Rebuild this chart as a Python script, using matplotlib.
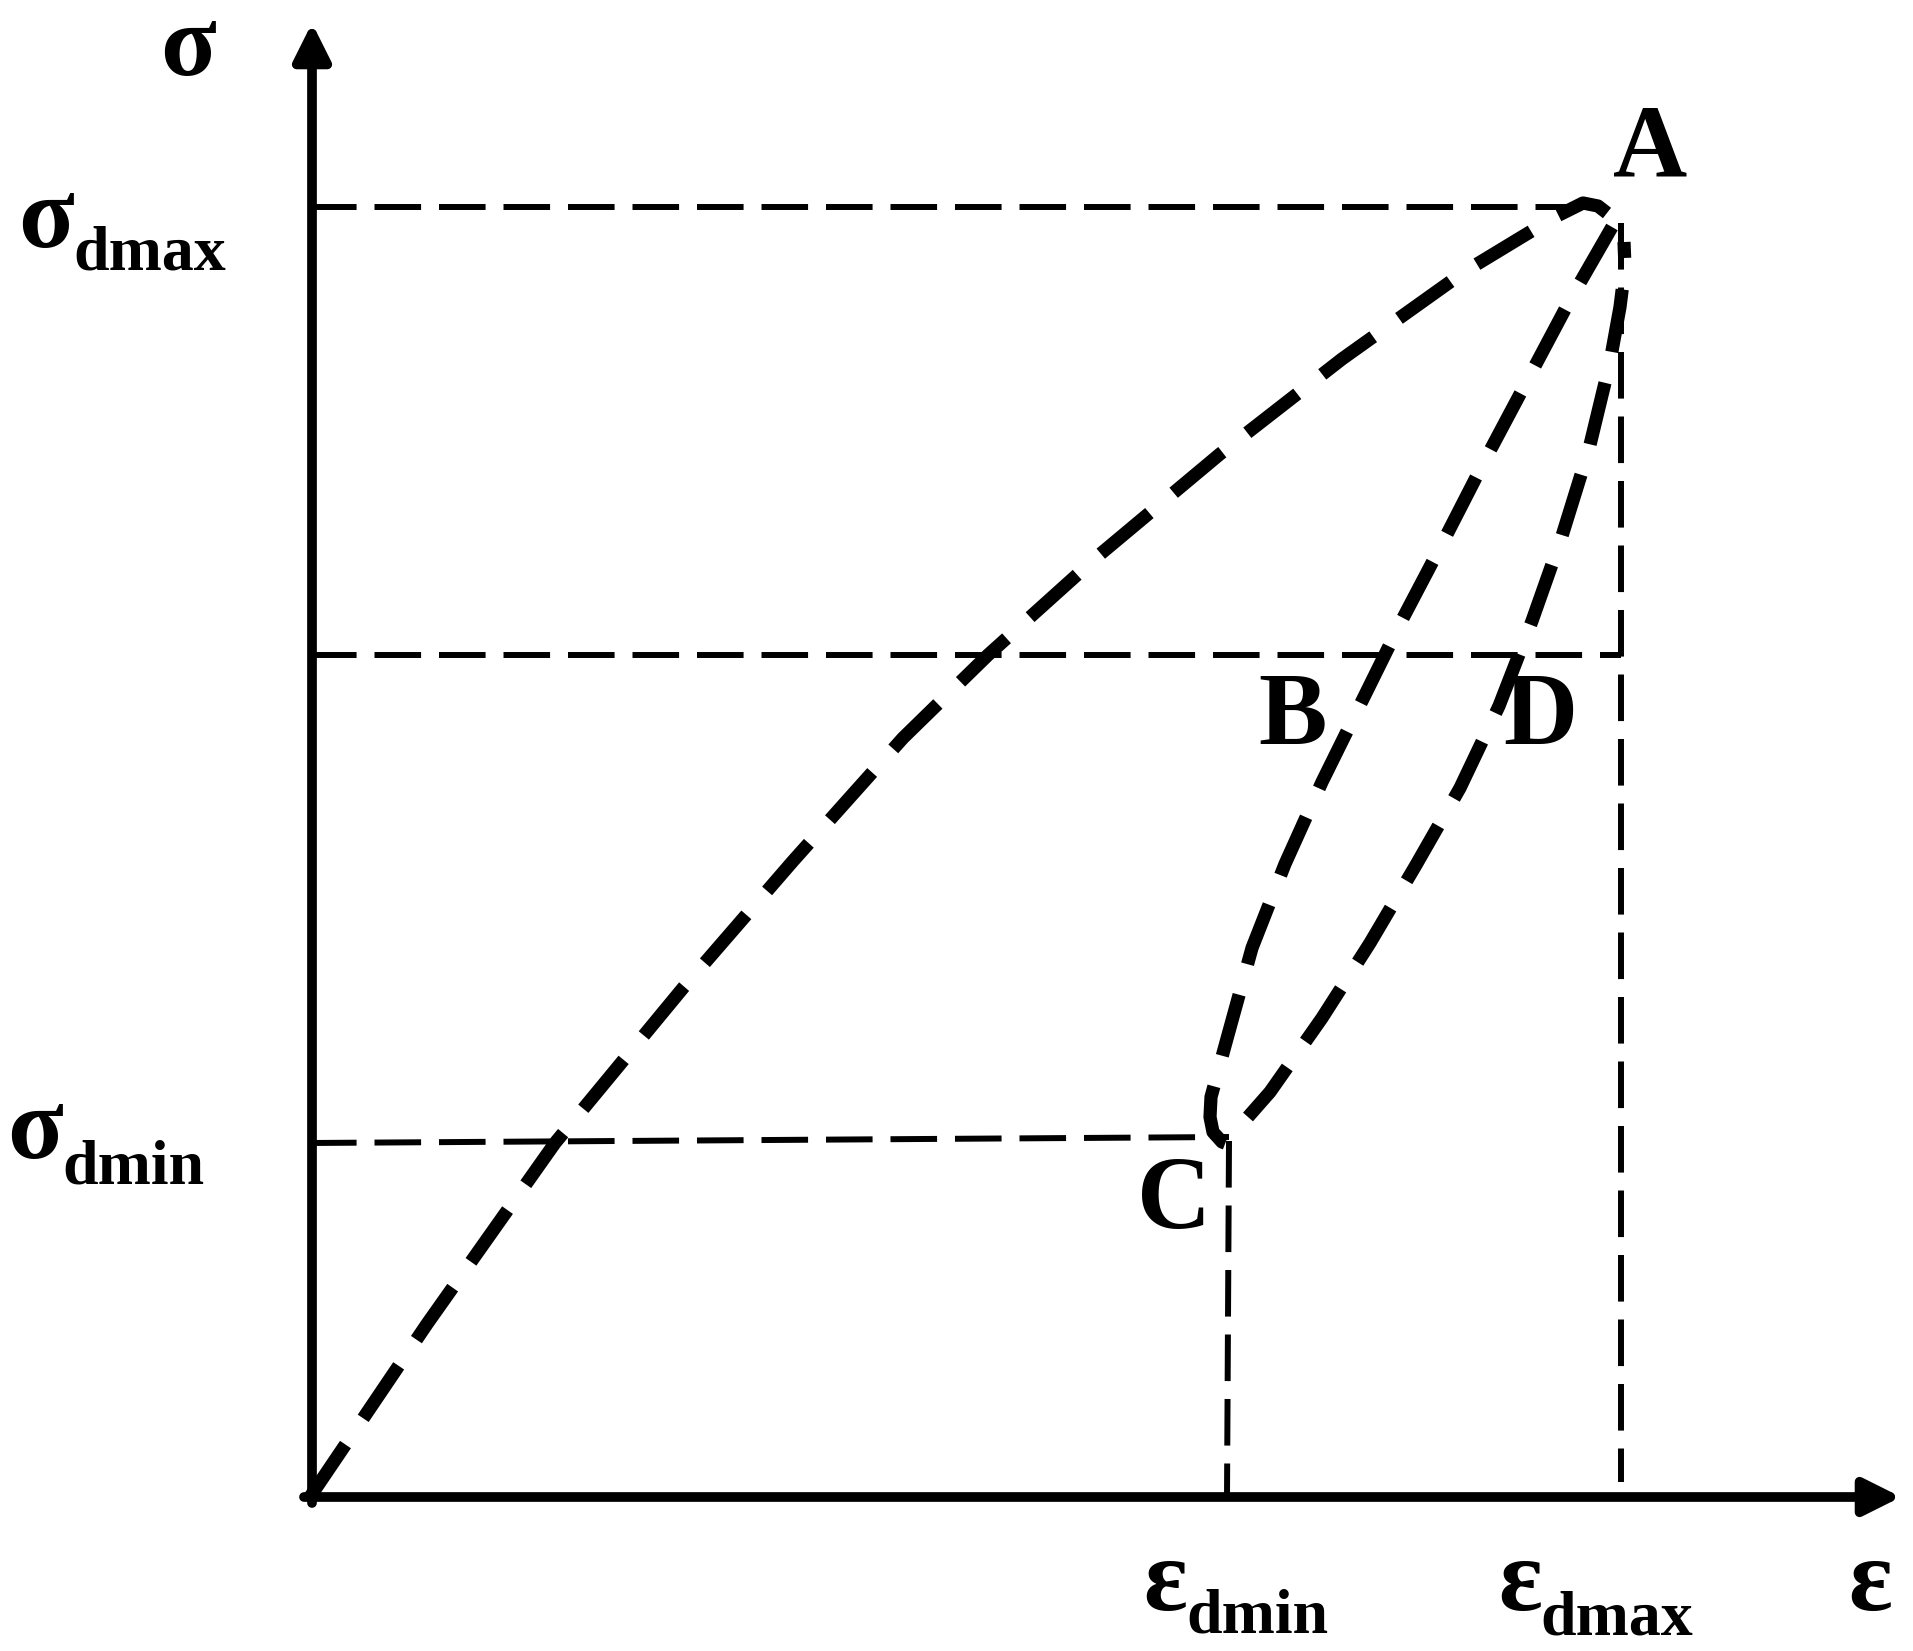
import numpy as np
import matplotlib.pyplot as plt
from matplotlib.patches import FancyArrowPatch

plt.rcParams['font.family'] = ['Liberation Serif', 'DejaVu Serif']

# schematic values (arbitrary units)
eps_dmin = 9.19
eps_dmax = 13.11
sig_dmax = 12.90
sig_mid = 8.42
sig_dmin = 3.56

# loading curve O -> A
eps_load = [0.0, 1.17, 2.45, 3.73, 4.83, 5.93, 6.78, 7.88, 9.10, 10.32, 11.54, 12.15, 12.45, 12.73, 12.88, 12.97]
sig_load = [0.0, 1.73, 3.54, 5.09, 6.36, 7.59, 8.42, 9.41, 10.43, 11.38, 12.25, 12.62, 12.80, 12.94, 12.91, 12.84]

# unloading A -> B -> C
eps_unload = [13.02, 12.60, 12.17, 11.75, 11.34, 10.92, 10.52, 10.12, 9.75, 9.42, 9.18, 9.01, 9.00, 9.03, 9.12, 9.20]
sig_unload = [12.70, 11.97, 11.16, 10.37, 9.57, 8.77, 7.96, 7.15, 6.33, 5.49, 4.62, 4.00, 3.80, 3.65, 3.55, 3.52]

# reloading C -> D -> A
eps_reload = [9.38, 9.60, 10.12, 10.60, 11.06, 11.50, 11.89, 12.22, 12.52, 12.79, 13.00, 13.10, 13.15, 13.14]
sig_reload = [3.80, 4.05, 4.79, 5.54, 6.32, 7.09, 7.91, 8.76, 9.61, 10.48, 11.35, 11.90, 12.30, 12.55]

fig = plt.figure(figsize=(19.13, 16.51), dpi=100)
ax = fig.add_axes([0, 0, 1, 1])
ax.set_xlim(-3.10, 16.03)
ax.set_ylim(-1.54, 14.97)
ax.axis('off')

# axes with arrows
for start, end in [((0.02, -0.06), (0.02, 14.74)), ((-0.06, 0.0), (15.91, 0.0))]:
    arr = FancyArrowPatch(start, end, arrowstyle='-|>,head_length=1.0,head_width=0.5',
                          mutation_scale=22, lw=7, color='k', shrinkA=0, shrinkB=0)
    ax.add_patch(arr)

# thin dashed reference lines
thin = dict(color='k', lw=4.3, ls=(0, (7.8, 3.0)), dash_capstyle='butt')
ax.plot([0, 12.6], [sig_dmax, sig_dmax], **thin)
ax.plot([0, eps_dmax], [sig_mid, sig_mid], **thin)
ax.plot([0, eps_dmin], [sig_dmin - 0.02, sig_dmin + 0.04], **thin)
ax.plot([eps_dmax, eps_dmax], [12.74, 0.15], **thin)
ax.plot([eps_dmin, eps_dmin - 0.02], [sig_dmin, 0.0], **thin)

# thick dashed stress-strain curves
thick = dict(color='k', lw=9.5, ls=(0, (4.8, 2.4)), dash_capstyle='butt')
ax.plot(eps_load, sig_load, **thick)
ax.plot(eps_unload, sig_unload, **thick)
ax.plot(eps_reload, sig_reload, **thick)

big = dict(fontsize=74, fontweight='bold', va='baseline')
sub = dict(fontsize=46, fontweight='bold', va='baseline')

ax.text(-1.22, 14.22, 'σ', ha='center', **big)
ax.text(-2.92, 12.50, 'σ', ha='left', **big)
ax.text(-2.37, 12.27, 'dmax', ha='left', **sub)
ax.text(-3.03, 3.39, 'σ', ha='left', **big)
ax.text(-2.48, 3.14, 'dmin', ha='left', **sub)

ax.text(13.40, 13.20, 'A', ha='center', **big)
ax.text(9.83, 7.53, 'B', ha='center', **big)
ax.text(12.30, 7.53, 'D', ha='center', **big)
ax.text(8.64, 2.69, 'C', ha='center', **big)

ax.text(8.33, -1.13, 'ε', ha='left', **big)
ax.text(8.76, -1.35, 'dmin', ha='left', **sub)
ax.text(11.88, -1.13, 'ε', ha='left', **big)
ax.text(12.30, -1.37, 'dmax', ha='left', **sub)
ax.text(15.38, -1.13, 'ε', ha='left', **big)

fig.savefig('out.png', dpi=100)
